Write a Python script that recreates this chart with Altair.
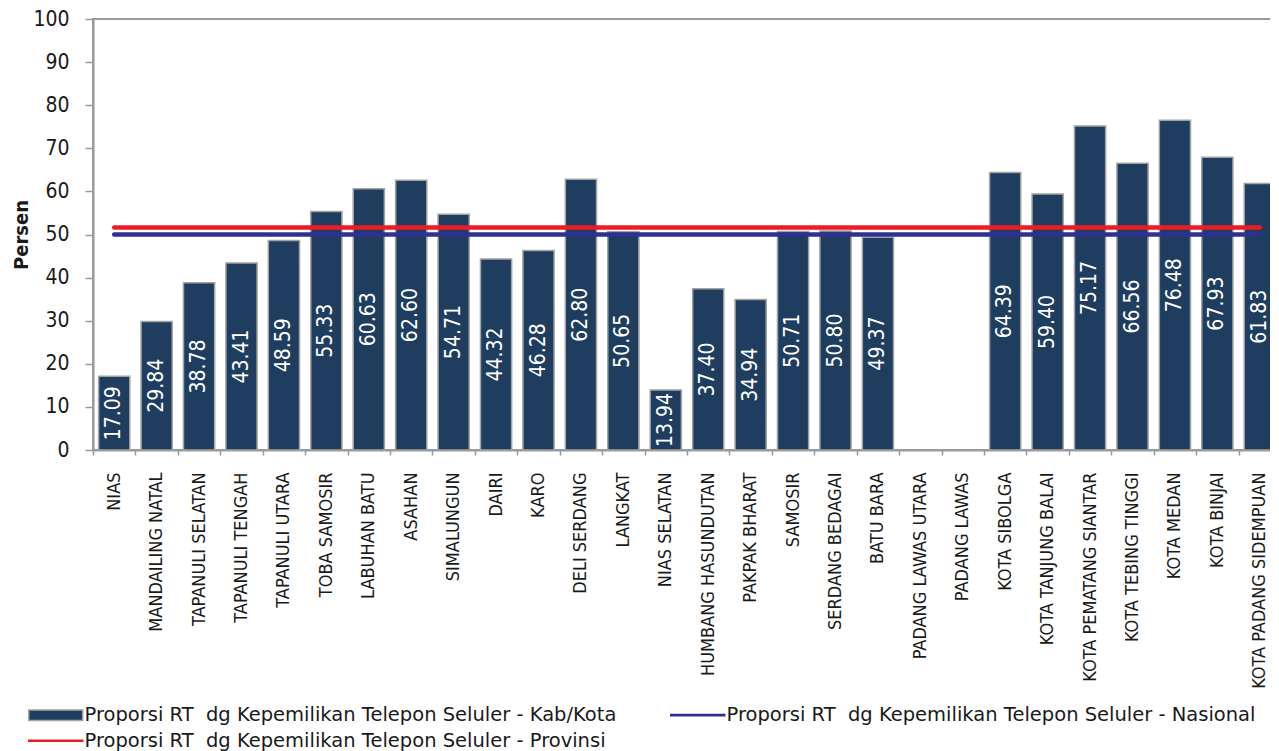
import altair as alt
import pandas as pd

categories = [
    "NIAS", "MANDAILING NATAL", "TAPANULI SELATAN", "TAPANULI TENGAH",
    "TAPANULI UTARA", "TOBA SAMOSIR", "LABUHAN BATU", "ASAHAN", "SIMALUNGUN",
    "DAIRI", "KARO", "DELI SERDANG", "LANGKAT", "NIAS SELATAN",
    "HUMBANG HASUNDUTAN", "PAKPAK BHARAT", "SAMOSIR", "SERDANG BEDAGAI",
    "BATU BARA", "PADANG LAWAS UTARA", "PADANG LAWAS", "KOTA SIBOLGA",
    "KOTA TANJUNG BALAI", "KOTA PEMATANG SIANTAR", "KOTA TEBING TINGGI",
    "KOTA MEDAN", "KOTA BINJAI", "KOTA PADANG SIDEMPUAN",
]
kab_values = [
    17.09, 29.84, 38.78, 43.41, 48.59, 55.33, 60.63, 62.60, 54.71,
    44.32, 46.28, 62.80, 50.65, 13.94, 37.40, 34.94, 50.71, 50.80,
    49.37, None, None, 64.39, 59.40, 75.17, 66.56, 76.48, 67.93, 61.83,
]
nasional_value = 50.0
provinsi_value = 51.6
y_ticks = [0, 10, 20, 30, 40, 50, 60, 70, 80, 90, 100]

name_kab = "Proporsi RT\u00a0 dg Kepemilikan Telepon Seluler - Kab/Kota"
name_nas = "Proporsi RT\u00a0 dg Kepemilikan Telepon Seluler - Nasional"
name_prov = "Proporsi RT\u00a0 dg Kepemilikan Telepon Seluler - Provinsi"
# legend fills column by column: column 1 = Kab/Kota, Provinsi; column 2 = Nasional
series_names = [name_kab, name_prov, name_nas]

BAR = "#1f3e5f"
BAR_EDGE = "#a3a3a3"
BLUE = "#2e3192"
RED = "#ed1c24"
FONT = "DejaVu Sans Condensed"
LEGEND_FONT = "DejaVu Sans"

df = pd.DataFrame({"cat": categories, "val": kab_values})
lines_df = pd.DataFrame({
    "cat": categories,
    "nas": [nasional_value] * len(categories),
    "prov": [provinsi_value] * len(categories),
})
legend_df = pd.DataFrame({"series": series_names})

x_enc = alt.X(
    "cat:N", sort=categories,
    scale=alt.Scale(paddingInner=0, paddingOuter=0),
    axis=alt.Axis(
        title=None, labelAngle=270, labelFont=FONT, labelFontSize=18,
        labelColor="#1a1a1a", labelLimit=400, labelPadding=17,
        tickBand="extent", tickSize=5, tickColor="#9a9a9a", tickWidth=1.5,
        domainColor="#9a9a9a", domainWidth=2, grid=False,
    ),
)
y_scale = alt.Scale(domain=[0, 100], nice=False)
y_axis = alt.Axis(
    values=y_ticks, title="Persen", titleFont=FONT, titleFontSize=20,
    titleFontWeight="bold", titleColor="#1a1a1a", titlePadding=1,
    labelFont=FONT, labelFontSize=21, labelColor="#1a1a1a", labelPadding=16,
    tickSize=8, tickColor="#9a9a9a", tickWidth=1.5,
    domainColor="#9a9a9a", domainWidth=2, grid=False,
)

bars = alt.Chart(df).mark_bar(
    color=BAR, stroke=BAR_EDGE, strokeWidth=1.5,
    width=alt.RelativeBandSize(0.735),
).encode(
    x=x_enc,
    y=alt.Y("val:Q", scale=y_scale, axis=y_axis),
)

nas_line = alt.Chart(lines_df).mark_line(
    color=BLUE, strokeWidth=4.5, strokeCap="round"
).encode(x=alt.X("cat:N", sort=categories), y=alt.Y("nas:Q"))

prov_line = alt.Chart(lines_df).mark_line(
    color=RED, strokeWidth=4.5, strokeCap="round"
).encode(x=alt.X("cat:N", sort=categories), y=alt.Y("prov:Q"))

labels = alt.Chart(df).transform_filter(
    "isValid(datum.val)"
).transform_calculate(
    mid="datum.val / 2"
).mark_text(
    angle=270, color="white", font=FONT, fontSize=21,
    align="center", baseline="middle",
).encode(
    x=alt.X("cat:N", sort=categories),
    y=alt.Y("mid:Q"),
    text=alt.Text("val:Q", format=".2f"),
)

# symbol paths drawn wider than the unit square so the legend rows stay compact
bar_path = "M-3.857,-0.75H3.857V0.75H-3.857Z"
line_path = "M-3.857,-0.08H3.857V0.08H-3.857Z"
leg = alt.Legend(
    title=None, orient="none", legendX=-47, legendY=686,
    columns=2, columnPadding=50, rowPadding=5,
    symbolSize=196, symbolStrokeWidth=1.5, symbolOpacity=1,
    labelFont=LEGEND_FONT, labelFontSize=19.5, labelColor="#1a1a1a",
    labelLimit=800, labelOffset=19, padding=0,
)
legend_layer = alt.Chart(legend_df).mark_point(filled=True, opacity=0).encode(
    color=alt.Color("series:N", scale=alt.Scale(domain=series_names, range=[BAR, RED, BLUE]), legend=leg),
    stroke=alt.Stroke("series:N", scale=alt.Scale(domain=series_names, range=[BAR_EDGE, RED, BLUE]), legend=leg),
    shape=alt.Shape("series:N", scale=alt.Scale(domain=series_names, range=[bar_path, line_path, line_path]), legend=leg),
)

chart = alt.layer(
    bars, nas_line, prov_line, labels, legend_layer
).properties(
    width=1188, height=431, background="white",
    padding={"left": 3, "top": 0, "right": -12, "bottom": 0},
).configure_view(fill="#dce6f2", stroke="#9a9a9a", strokeWidth=2)

chart.save("out.html", embed_options={"renderer": "svg", "actions": False})
